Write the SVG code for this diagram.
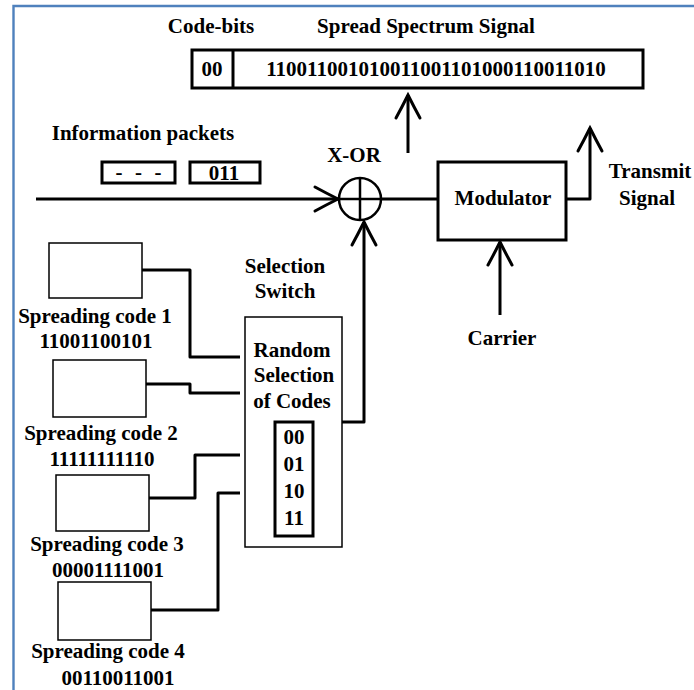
<svg xmlns="http://www.w3.org/2000/svg" width="694" height="690" viewBox="0 0 694 690">
  <style>
    text { font-family: "Liberation Serif", "DejaVu Serif", "Times New Roman", serif; font-weight: bold; font-size: 21px; fill: #000; text-anchor: middle; }
    .thick { fill: none; stroke: #000; stroke-width: 3; }
    .thin { fill: #fff; stroke: #000; stroke-width: 1.5; }
    .wire { fill: none; stroke: #000; stroke-width: 3; stroke-linejoin: round; }
    .frame { stroke: #4f81bd; stroke-width: 2.4; fill: none; }
  </style>
  <defs>
    <marker id="chev" markerUnits="userSpaceOnUse" orient="auto" markerWidth="30" markerHeight="30" refX="0" refY="0" viewBox="-25 -15 30 30" overflow="visible">
      <path d="M-23,-12 Q-12,-6 0,0 Q-12,6 -23,12" fill="none" stroke="#000" stroke-width="3" stroke-linecap="round"/>
    </marker>
  </defs>

  <rect width="694" height="690" fill="#fff"/>
  <!-- page frame -->
  <path class="frame" d="M13.5,690 V6 H694"/>

  <!-- spread spectrum output -->
  <g id="spread-signal">
    <text x="211" y="33">Code-bits</text>
    <text x="426" y="33">Spread Spectrum Signal</text>
    <rect class="thick" x="192" y="50" width="451" height="38"/>
    <line class="thick" x1="233" y1="50" x2="233" y2="88"/>
    <text x="212" y="76">00</text>
    <text x="436" y="76">110011001010011001101000110011010</text>
  </g>

  <!-- information packets -->
  <g id="info-packets">
    <text x="143" y="140">Information packets</text>
    <rect class="thick" x="102" y="162" width="73" height="21"/>
    <text x="115.5" y="179" style="text-anchor:start;letter-spacing:3.6px">- - -</text>
    <rect class="thick" x="190" y="162" width="70" height="21"/>
    <text x="224" y="180">011</text>
  </g>

  <!-- exclusive-or -->
  <g id="xor">
    <text x="354" y="162">X-OR</text>
    <circle cx="360" cy="199" r="21" fill="none" stroke="#000" stroke-width="2.5"/>
    <line x1="339" y1="199" x2="381" y2="199" stroke="#000" stroke-width="2.5"/>
    <line x1="360" y1="178" x2="360" y2="220" stroke="#000" stroke-width="2.5"/>
  </g>

  <!-- modulator -->
  <g id="modulator">
    <rect class="thick" x="438" y="162" width="128" height="78"/>
    <text x="503" y="205">Modulator</text>
  </g>

  <g id="transmit-label">
    <text x="650" y="178">Transmit</text>
    <text x="647" y="205">Signal</text>
  </g>

  <g id="carrier">
    <text x="502" y="345">Carrier</text>
  </g>

  <!-- selection switch -->
  <g id="selection-switch">
    <text x="285" y="273">Selection</text>
    <text x="285" y="298">Switch</text>
    <rect class="thin" x="245" y="317" width="97" height="230"/>
    <text x="292" y="357">Random</text>
    <text x="294" y="382">Selection</text>
    <text x="292" y="408">of Codes</text>
    <rect class="thick" x="275" y="422" width="38" height="114"/>
    <text x="294" y="444">00</text>
    <text x="294" y="471">01</text>
    <text x="294" y="498">10</text>
    <text x="294" y="525">11</text>
  </g>

  <!-- spreading code generators -->
  <g id="code1">
    <rect class="thin" x="49" y="243" width="93" height="55"/>
    <text x="95" y="323">Spreading code 1</text>
    <text x="96" y="348">11001100101</text>
  </g>
  <g id="code2">
    <rect class="thin" x="53" y="360" width="93" height="57"/>
    <text x="101" y="440">Spreading code 2</text>
    <text x="102" y="466">11111111110</text>
  </g>
  <g id="code3">
    <rect class="thin" x="56" y="475" width="93" height="56"/>
    <text x="107" y="551">Spreading code 3</text>
    <text x="108" y="577">00001111001</text>
  </g>
  <g id="code4">
    <rect class="thin" x="58" y="582" width="93" height="58"/>
    <text x="108" y="658">Spreading code 4</text>
    <text x="118" y="685">00110011001</text>
  </g>

  <!-- connectors -->
  <g id="connectors">
    <line class="wire" x1="36" y1="199" x2="338" y2="199" marker-end="url(#chev)"/>
    <line class="wire" x1="381" y1="199" x2="438" y2="199"/>
    <line class="wire" x1="408" y1="153" x2="408" y2="95" marker-end="url(#chev)"/>
    <polyline class="wire" points="566,199 590,199 590,128" marker-end="url(#chev)"/>
    <line class="wire" x1="500" y1="315" x2="500" y2="242" marker-end="url(#chev)"/>
    <polyline class="wire" points="342,422 364,422 364,222" marker-end="url(#chev)"/>
    <polyline class="wire" points="142,270 190,270 190,357 240,357"/>
    <polyline class="wire" points="146,384 190,384 190,393 240,393"/>
    <polyline class="wire" points="149,498 195,498 195,455 240,455"/>
    <polyline class="wire" points="151,610 218,610 218,493 240,493"/>
  </g>
</svg>
